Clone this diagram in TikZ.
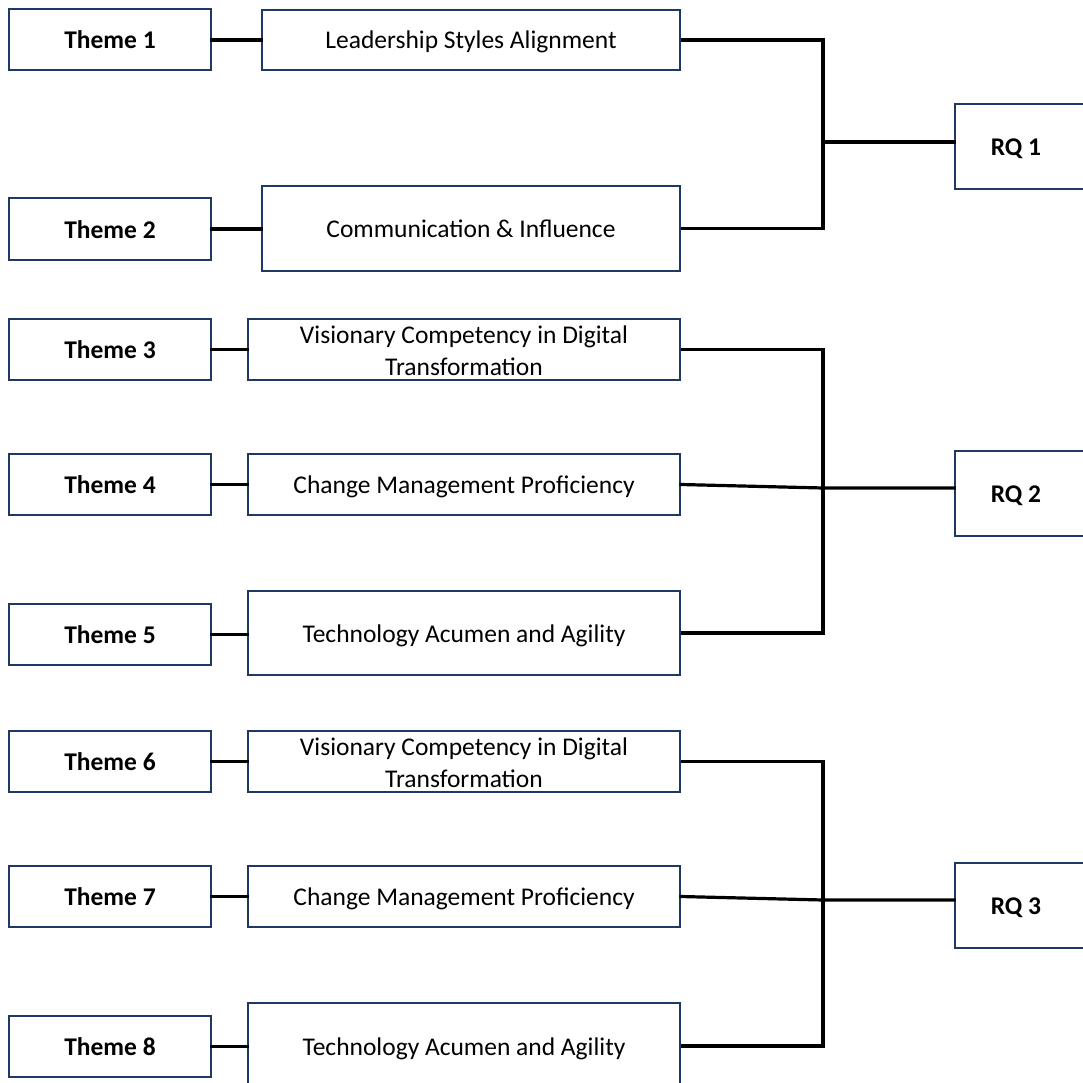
\documentclass[tikz,border=0pt]{standalone}
\usepackage{fontspec}
\setmainfont{Carlito}
\definecolor{boxline}{RGB}{31,56,100}
\begin{document}
\begin{tikzpicture}[x=1pt,y=-1pt,
  box/.style={draw=boxline, line width=2pt, fill=white, rectangle, inner sep=0pt, align=center,
    font=\fontsize{25.5}{31}\selectfont},
  one/.style={text height=20pt, text depth=2pt},
  theme/.style={box, one, minimum width=202pt, minimum height=61pt, font=\fontsize{25.5}{31}\selectfont\bfseries},
  mid/.style={box, minimum width=432pt},
  rq/.style={box, one, minimum width=140pt, minimum height=85pt, font=\fontsize{25.5}{31}\selectfont\bfseries},
  conn/.style={line width=3.2pt, black, line cap=rect}]
\useasboundingbox (0,0) rectangle (1083,1083);
\begin{scope}
\clip (0,0) rectangle (1083,1083);
% theme boxes
\node[theme] (t1) at (110,40) {Theme 1};
\node[theme] (t2) at (110,229) {Theme 2};
\node[theme] (t3) at (110,349.5) {Theme 3};
\node[theme] (t4) at (110,484.5) {Theme 4};
\node[theme] (t5) at (110,634.5) {Theme 5};
\node[theme] (t6) at (110,761.5) {Theme 6};
\node[theme] (t7) at (110,896.5) {Theme 7};
\node[theme] (t8) at (110,1046.5) {Theme 8};
% middle boxes
\node[mid, one, minimum width=418pt, minimum height=60pt] (m1) at (471,40) {Leadership Styles Alignment};
\node[mid, one, minimum width=418pt, minimum height=85pt] (m2) at (471,228.5) {Communication \& Influence};
\node[mid, minimum height=61pt] (m3) at (464,349.5) {\raisebox{-10pt}[0pt][0pt]{\begin{tabular}{@{}c@{}}Visionary Competency in Digital\\[0.5pt]Transformation\end{tabular}}};
\node[mid, one, minimum height=61pt] (m4) at (464,484.5) {Change Management Proficiency};
\node[mid, one, minimum height=84pt] (m5) at (464,633) {Technology Acumen and Agility};
\node[mid, minimum height=61pt] (m6) at (464,761.5) {\raisebox{-10pt}[0pt][0pt]{\begin{tabular}{@{}c@{}}Visionary Competency in Digital\\[0.5pt]Transformation\end{tabular}}};
\node[mid, one, minimum height=61pt] (m7) at (464,896.5) {Change Management Proficiency};
\node[mid, minimum height=86pt] (m8) at (464,1046) {};
\node[font=\fontsize{25.5}{31}\selectfont, one, inner sep=0pt] (m8t) at (464,1046) {Technology Acumen and Agility};
% RQ boxes
\node[rq] (r1) at (1025,146.5) {\hspace*{-18pt}RQ 1};
\node[rq] (r2) at (1025,493.5) {\hspace*{-18pt}RQ 2};
\node[rq] (r3) at (1025,905.5) {\hspace*{-18pt}RQ 3};
% theme connectors
\draw[conn] (t1.east) -- (m1.west |- t1.east);
\draw[conn] (t2.east) -- (m2.west |- t2.east);
\draw[conn] (t3.east) -- (m3.west |- t3.east);
\draw[conn] (t4.east) -- (m4.west |- t4.east);
\draw[conn] (t5.east) -- (m5.west |- t5.east);
\draw[conn] (t6.east) -- (m6.west |- t6.east);
\draw[conn] (t7.east) -- (m7.west |- t7.east);
\draw[conn] (t8.east) -- (m8.west |- t8.east);
% brackets
\coordinate (b1) at (823,142);
\coordinate (b2) at (823,488);
\coordinate (b3) at (823,900);
\draw[conn, line cap=butt, line join=miter] (m1.east) -| (b1) |- (m2.east);
\draw[conn] (b1) -- (b1 -| r1.west);
\draw[conn, line cap=butt, line join=miter] (m3.east) -| (b2) |- (m5.east);
\draw[conn] (m4.east) -- (b2) -- (b2 -| r2.west);
\draw[conn, line cap=butt, line join=miter] (m6.east) -| (b3) |- (m8.east);
\draw[conn] (m7.east) -- (b3) -- (b3 -| r3.west);
\end{scope}
\end{tikzpicture}
\end{document}
